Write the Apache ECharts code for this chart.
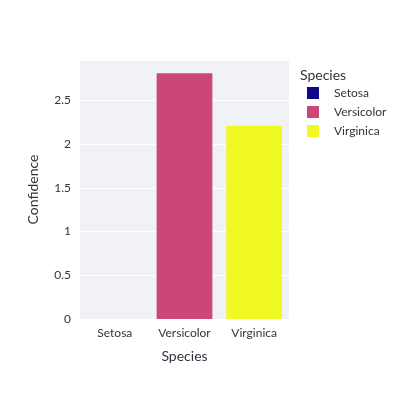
<!DOCTYPE html>
<html><head><meta charset="utf-8">
<script src="https://cdn.jsdelivr.net/npm/echarts@6/dist/echarts.min.js"></script>
<style>html,body{margin:0;padding:0;background:#fff}#c{width:400px;height:400px}</style>
</head><body><div id="c"></div>
<script>
const categories = ['Setosa', 'Versicolor', 'Virginica'];
const confidence = [0, 2.81, 2.21];
const seriesColors = ['#0d0887', '#cc4778', '#f0f921'];
const yTicks = [0, 0.5, 1, 1.5, 2, 2.5];

const font = 'Lato, "Open Sans", sans-serif';
const txt = '#31333f';
const chart = echarts.init(document.getElementById('c'));
chart.setOption({
  animation: false,
  textStyle: { fontFamily: font },
  title: { text: 'Species', left: 295, top: 63, textStyle: { fontFamily: font, fontSize: 14, fontWeight: 'normal', color: txt } },
  legend: {
    orient: 'vertical', left: 302, top: 82, itemWidth: 12, itemHeight: 12, itemGap: 7,
    icon: 'rect', textStyle: { fontFamily: font, fontSize: 12, color: txt, padding: [0, 0, 0, 10] },
    data: categories
  },
  grid: { left: 80, right: 111, top: 60, bottom: 81, show: true, backgroundColor: '#f0f2f6', borderWidth: 0 },
  xAxis: {
    type: 'category', data: categories,
    name: 'Species', nameLocation: 'middle', nameGap: 30,
    nameTextStyle: { fontFamily: font, fontSize: 14, color: txt },
    axisLine: { show: false }, axisTick: { show: false },
    axisLabel: { fontFamily: font, fontSize: 12, color: txt, margin: 8 }
  },
  yAxis: {
    type: 'value', min: 0, max: 2.96, interval: 0.5,
    name: 'Confidence', nameLocation: 'middle', nameGap: 40,
    nameTextStyle: { fontFamily: font, fontSize: 14, color: txt },
    axisLine: { show: false }, axisTick: { show: false },
    axisLabel: { fontFamily: font, fontSize: 12, color: txt, margin: 9,
      formatter: v => yTicks.includes(v) ? String(v) : '' },
    splitLine: { lineStyle: { color: '#ffffff', width: 1 } }
  },
  series: categories.map((name, i) => ({
    name, type: 'bar', stack: 'all', barCategoryGap: '20%',
    itemStyle: { color: seriesColors[i] },
    data: categories.map((c, j) => j === i ? confidence[i] : null)
  }))
});
</script></body></html>
